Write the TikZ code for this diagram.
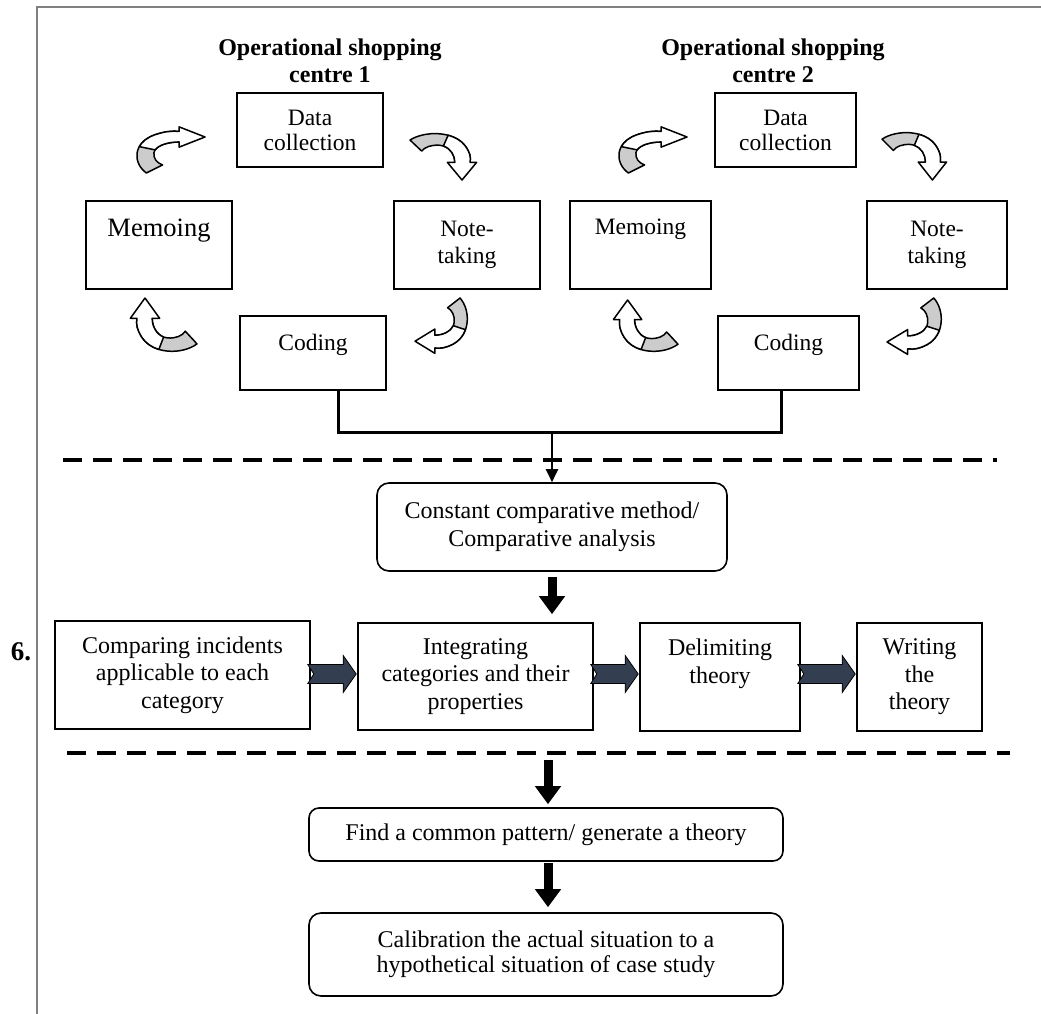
\documentclass[tikz,border=0pt]{standalone}
\usepackage{fontspec}
\setmainfont{Liberation Serif}
\usetikzlibrary{arrows.meta,calc}
\definecolor{slate}{RGB}{51,63,80}
\definecolor{framegray}{RGB}{128,128,128}
\newcommand{\fs}[2]{\fontsize{#1}{#2}\selectfont}
\newcommand{\crvarrow}[5]{%
\begin{scope}[shift={(#1,#2)}, xscale=#3, yscale=#4, rotate=#5]
\path[crvback] (-1,0.7) .. controls (-0.55,1.1) and (0.35,1.1) .. (0.7,0.45) .. controls (0.85,0.15) and (0.87,0) .. (0.85,-0.25) -- (0.38,-0.25) .. controls (0.38,0.1) and (0.2,0.45) .. (-0.1,0.48) .. controls (-0.35,0.5) and (-0.55,0.4) .. (-0.64,0.23) -- cycle;
\path[crvfront] (0.1732,0.9044) .. controls (0.3876,0.8254) and (0.5775,0.6775) .. (0.7,0.45) .. controls (0.85,0.15) and (0.87,0) .. (0.85,-0.25) -- (1.05,-0.25) -- (0.6,-1) -- (0.15,-0.25) -- (0.38,-0.25) .. controls (0.38,0.0475) and (0.25,0.345) .. (0.027,0.446) -- cycle;
\end{scope}}
\newcommand{\notcharrow}[3]{%
\path[notched] let \p1=(#1.east), \p2=(#2.west) in
 (\x1-3pt,#3pt+9.5pt) -- (\x2-14pt,#3pt+9.5pt) -- (\x2-14pt,#3pt+18.5pt) -- (\x2-1pt,#3pt)
 -- (\x2-14pt,#3pt-18.5pt) -- (\x2-14pt,#3pt-9.5pt) -- (\x1-3pt,#3pt-9.5pt) -- (\x1+3pt,#3pt) -- cycle;}
\begin{document}
\begin{tikzpicture}[x=1pt,y=1pt,
  frame/.style={draw=framegray, line width=1.5pt},
  title/.style={align=center, inner sep=0pt, font=\bfseries\fs{24}{27}},
  box/.style={draw, line width=1.6pt, inner sep=0pt, align=center, font=\fs{23.5}{27}},
  rbox/.style={box, rounded corners=12pt, font=\fs{24}{28}},
  rowbox/.style={box, minimum height=108pt, font=\fs{24}{27.5}},
  crvback/.style={fill=gray!40, draw=black, line width=1.5pt, line join=round},
  crvfront/.style={fill=white, draw=black, line width=1.5pt, line join=round},
  notched/.style={fill=slate, draw=black, line width=0.8pt, line join=miter},
  dashline/.style={line width=4pt, dash pattern=on 19pt off 11pt},
  bracket/.style={line width=3pt},
  thinarrow/.style={line width=2pt, -{Triangle[length=13pt,width=12pt]}},
  bigarrow/.style={line width=9pt, -{Triangle[length=18pt,width=25pt]}},
  numlabel/.style={inner sep=0pt, font=\bfseries\fs{27}{30}}
]
\useasboundingbox (0,0) rectangle (1041,-1014);
\draw[frame] (37,-1014) -- (37,-7) -- (1041,-7);

% titles
\node[title] (t1) at (330,-60.5) {Operational shopping\\centre 1};
\node[title] (t2) at (773,-60.5) {Operational shopping\\centre 2};

% cycle 1
\node[box, minimum width=146pt, minimum height=74pt, font=\fs{23.5}{25}] (dc1) at (310,-130) {Data\\collection};
\node[box, minimum width=146pt, minimum height=88pt, font=\fs{26.5}{27}] (mem1) at (159,-245) {Memoing\\[7pt]\mbox{}};
\node[box, minimum width=146pt, minimum height=88pt] (note1) at (467,-245) {Note-\\taking};
\node[box, minimum width=146pt, minimum height=74pt] (cod1) at (313,-353) {Coding\\[-5pt]\mbox{}};

% cycle 2
\node[box, minimum width=141pt, minimum height=74pt, font=\fs{23.5}{25}] (dc2) at (785.5,-130) {Data\\collection};
\node[box, minimum width=141pt, minimum height=88pt] (mem2) at (640.5,-245) {Memoing\\[9pt]\mbox{}};
\node[box, minimum width=140pt, minimum height=88pt] (note2) at (937,-245) {Note-\\taking};
\node[box, minimum width=141pt, minimum height=74pt] (cod2) at (788.5,-353) {Coding\\[-5pt]\mbox{}};

% curved arrows
\crvarrow{170.5}{-150.5}{34.5}{22.5}{90}
\crvarrow{442.5}{-156.5}{32.5}{23.5}{0}
\crvarrow{441.5}{-325}{26.5}{27}{-90}
\crvarrow{164.5}{-325}{32.5}{27}{180}
\crvarrow{652.5}{-150.5}{34.5}{22.5}{90}
\crvarrow{913.5}{-156}{31.5}{24}{0}
\crvarrow{914.5}{-325.5}{27.5}{27.5}{-90}
\crvarrow{646.5}{-326}{31.5}{26}{180}

% middle
\node[rbox, minimum width=350pt, minimum height=88pt] (cons) at (552,-527) {Constant comparative method/\\Comparative analysis};

\coordinate (j1) at (338,-432);
\coordinate (j2) at (781,-432);
\draw[bracket] (cod1.south -| j1) -- (j1) -- (j2) -- (cod2.south -| j2);
\draw[thinarrow] (cons.north |- j1) -- (cons.north);

\draw[dashline] (63,-460) -- (997,-460);
\draw[dashline] (67,-753) -- (1010,-753);

% row
\node[numlabel] (six) at (21,-652) {6.};
\node[rowbox, minimum width=255pt] (ra) at (182.5,-675) {Comparing incidents\\applicable to each\\category};
\node[rowbox, minimum width=235pt, minimum height=107pt] (rb) at (475.5,-676.5) {Integrating\\categories and their\\properties};
\node[rowbox, minimum width=160pt] (rc) at (720,-677) {Delimiting\\theory\\[4pt]\mbox{}};
\node[rowbox, minimum width=125pt] (rd) at (919.5,-677) {Writing\\the\\theory};

\notcharrow{ra}{rb}{-674}
\notcharrow{rb}{rc}{-674}
\notcharrow{rc}{rd}{-674}

\draw[bigarrow, shorten <=5pt, shorten >=8pt] (cons.south) -- (cons.south |- rb.north);

% bottom
\node[rbox, rounded corners=10pt, minimum width=474pt, minimum height=53pt, font=\fs{24}{25}] (find) at (546,-834.5) {Find a common pattern/ generate a theory};
\node[rbox, minimum width=474pt, minimum height=83pt, font=\fs{24}{25}] (calib) at (546,-954.5) {Calibration the actual situation to a\\hypothetical situation of case study};

\coordinate (d2) at (548,-760);
\draw[bigarrow, shorten >=3pt] (d2) -- (find.north -| d2);
\draw[bigarrow, shorten <=1pt, shorten >=5pt] (find.south -| d2) -- (calib.north -| d2);
\end{tikzpicture}
\end{document}
